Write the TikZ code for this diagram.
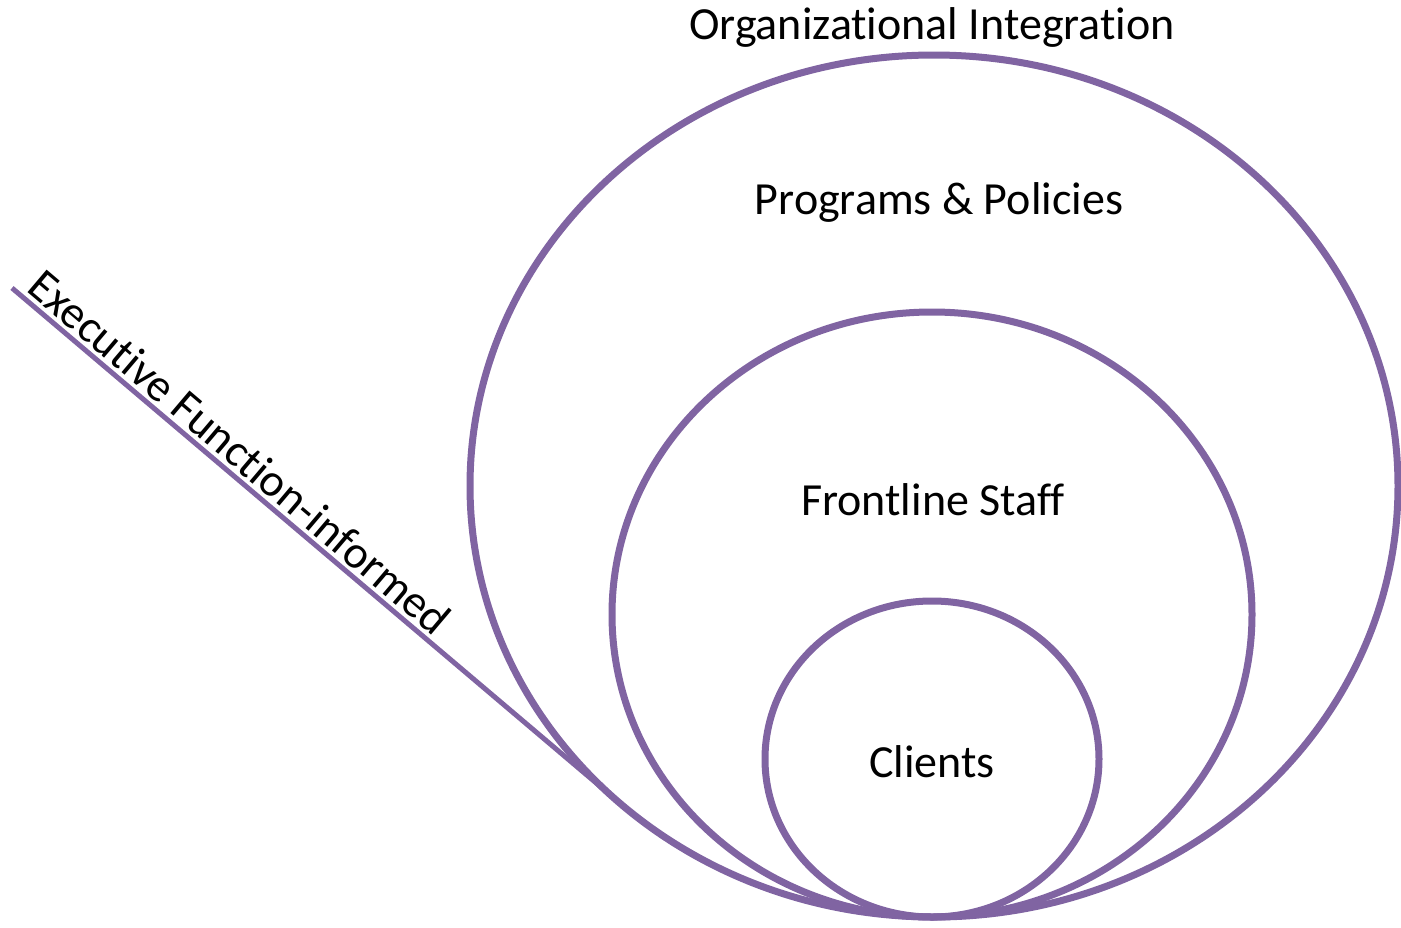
\documentclass[tikz,border=0pt]{standalone}
\usepackage{fontspec}
\setmainfont[Ligatures=NoCommon]{Carlito}
\definecolor{ringpurple}{HTML}{8064A2}

\begin{document}
\begin{tikzpicture}[x=1pt, y=-1pt,
    ring/.style={draw=ringpurple, line width=7pt},
    lbl/.style={font=\fontsize{46}{54}\selectfont, text=black, inner sep=0pt}]
  \useasboundingbox (0,0) rectangle (1401,927);
  % nested levels, all touching at the bottom
  \draw[ring] (934,486) ellipse [x radius=464, y radius=431];
  \draw[ring] (932,614.5) ellipse [x radius=320, y radius=302.5];
  \draw[ring] (932,759) ellipse [x radius=167, y radius=158];
  % lead-in line, tangent to the outer ring
  \coordinate (tail) at (12,288);
  \coordinate (touch) at (621,804);
  \draw[ringpurple, line width=5pt] (tail) -- (touch);
  \node[lbl, rotate=-40.3] (ef) at (240,452) {Executive Function-informed};
  \node[lbl] (org) at (932,27) {Organizational Integration};
  \node[lbl] (prog) at (939,202) {Programs \& Policies};
  \node[lbl] (staff) at (933,500) {Frontline Staff};
  \node[lbl] (cli) at (932,762) {Clients};
\end{tikzpicture}
\end{document}
